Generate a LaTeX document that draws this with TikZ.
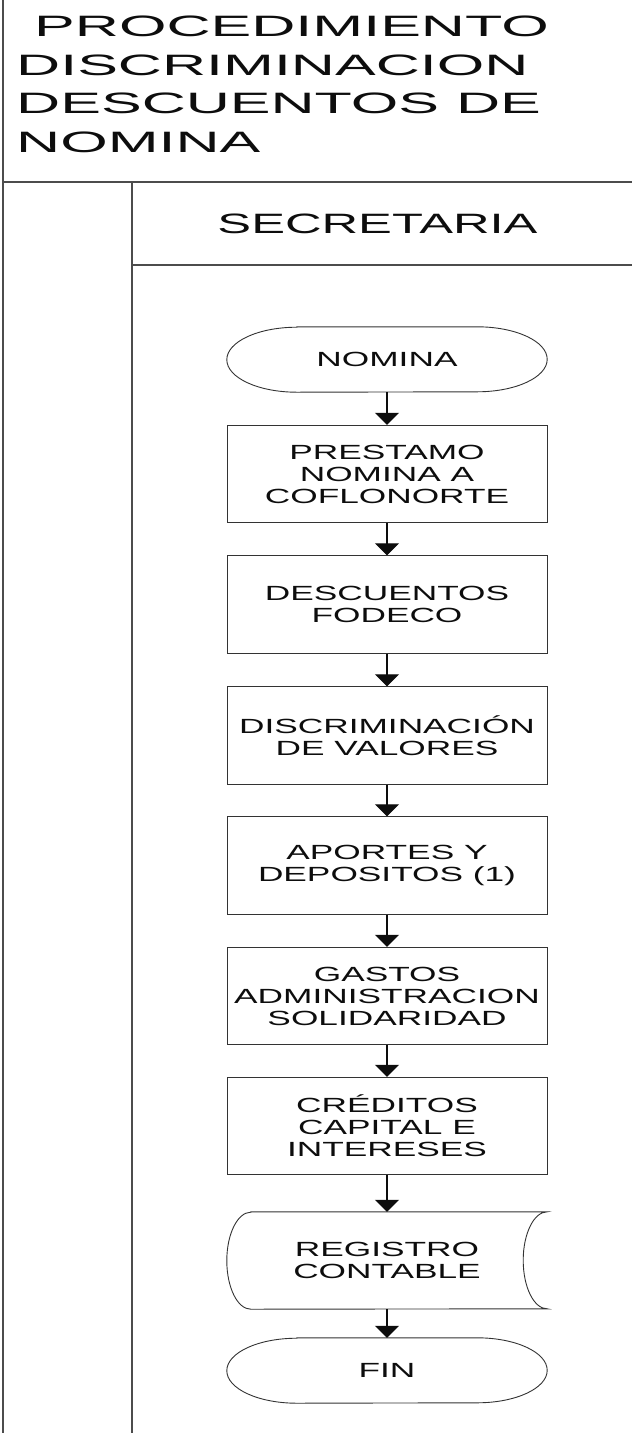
\documentclass[tikz,border=0pt]{standalone}
\usepackage{fontspec}
\usetikzlibrary{arrows.meta}
\newfontfamily\titlefam{Liberation Sans}[FakeStretch=2.07]
\newfontfamily\lanefam{Liberation Sans}[FakeStretch=1.81]
\newfontfamily\boxfam{Liberation Sans}[FakeStretch=1.72]
\definecolor{ink}{gray}{0.05}
\definecolor{ruleline}{gray}{0.3}
\definecolor{boxline}{gray}{0.2}
\tikzset{
  frameline/.style={draw=ruleline, line width=1.6pt},
  procbox/.style={draw=boxline, line width=0.9pt, minimum width=320pt, minimum height=97.5pt,
    inner sep=0pt, align=center, font=\boxfam\fontsize{20.5}{22}\selectfont, text=ink},
  termnode/.style={minimum width=320pt, minimum height=65pt, inner sep=0pt, align=center,
    font=\boxfam\fontsize{20.5}{22}\selectfont, text=ink},
  storenode/.style={minimum width=320pt, minimum height=97pt, inner sep=0pt, align=center,
    font=\boxfam\fontsize{20.5}{22}\selectfont, text=ink},
  shapeline/.style={draw=boxline, line width=0.9pt},
  flowarrow/.style={draw=ink, line width=1.1pt, -{Triangle[width=24pt,length=12pt]}}
}
\newcommand\terminalshape[1]{%
  \draw[shapeline] ([xshift=70pt]#1.north west) -- ([xshift=-70pt]#1.north east)
    arc[start angle=90,end angle=-90,x radius=70pt,y radius=32.5pt]
    -- ([xshift=70pt]#1.south west)
    arc[start angle=270,end angle=90,x radius=70pt,y radius=32.5pt] -- cycle;}
\begin{document}
\begin{tikzpicture}[x=1pt,y=-1pt]
\useasboundingbox (0,0) rectangle (632,1433);
% frame
\coordinate (ltop) at (3,0);
\coordinate (lbot) at (3,1433);
\coordinate (hl) at (3,182);
\coordinate (hr) at (632,182);
\coordinate (itop) at (132,182);
\coordinate (ibot) at (132,1433);
\coordinate (lanel) at (132,265);
\coordinate (laner) at (632,265);
\draw[frameline] (ltop) -- (lbot);
\draw[frameline, line width=2pt] (hl) -- (hr);
\draw[frameline] (itop) -- (ibot);
\draw[frameline, line width=1.3pt] (lanel) -- (laner);
% title
\node[anchor=north west, inner sep=0pt, align=left, text=ink,
      font=\titlefam\fontsize{29.5}{38.5}\selectfont] (title) at (16,16)
  {\hspace*{18pt}PROCEDIMIENTO\\DISCRIMINACION\\DESCUENTOS DE\\NOMINA};
\node[anchor=base, inner sep=0pt, text=ink, font=\lanefam\fontsize{28}{30}\selectfont]
  (lane) at (377.5,233) {SECRETARIA};
% flow
\node[termnode] (nomina) at (387,359.5) {NOMINA};
\terminalshape{nomina}
\node[procbox] (prestamo) at (387,474) {PRESTAMO\\NOMINA A\\COFLONORTE};
\node[procbox] (descuentos) at (387,604.5) {DESCUENTOS\\FODECO};
\node[procbox] (discrim) at (387,735.5) {DISCRIMINACIÓN\\DE VALORES};
\node[procbox] (aportes) at (387,865.5) {APORTES Y\\DEPOSITOS (1)};
\node[procbox] (gastos) at (387,996) {GASTOS\\ADMINISTRACION\\SOLIDARIDAD};
\node[procbox] (creditos) at (387,1126) {CRÉDITOS\\CAPITAL E\\INTERESES};
\node[storenode] (registro) at (387,1260.5) {REGISTRO\\CONTABLE};
\draw[shapeline] ([xshift=24pt]registro.north west) -- (registro.north east)
  arc[start angle=90,end angle=270,x radius=24pt,y radius=48.5pt]
  -- ([xshift=24pt]registro.south west)
  arc[start angle=270,end angle=90,x radius=24pt,y radius=48.5pt] -- cycle;
\node[termnode] (fin) at (387,1370.5) {FIN};
\terminalshape{fin}
% arrows
\draw[flowarrow] (nomina.south) -- (prestamo.north);
\draw[flowarrow] (prestamo.south) -- (descuentos.north);
\draw[flowarrow] (descuentos.south) -- (discrim.north);
\draw[flowarrow] (discrim.south) -- (aportes.north);
\draw[flowarrow] (aportes.south) -- (gastos.north);
\draw[flowarrow] (gastos.south) -- (creditos.north);
\draw[flowarrow] (creditos.south) -- (registro.north);
\draw[flowarrow] (registro.south) -- (fin.north);
\end{tikzpicture}
\end{document}
